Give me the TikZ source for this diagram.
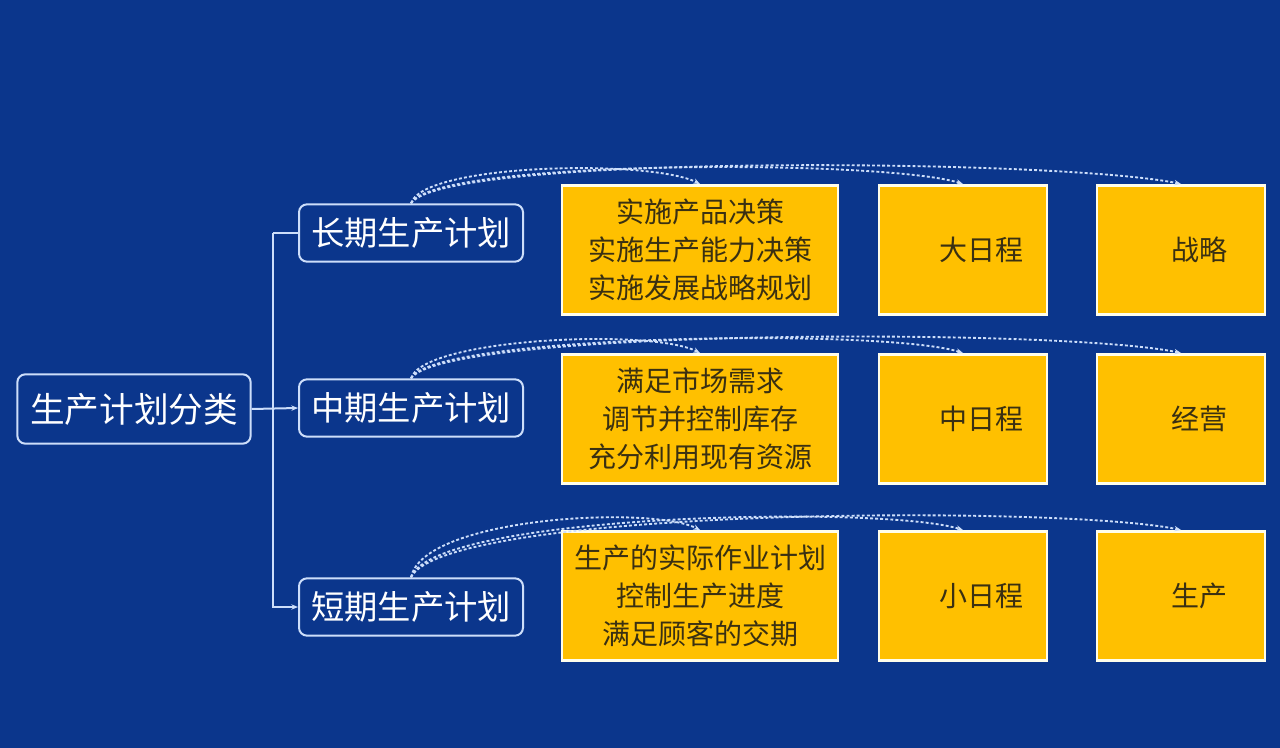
\documentclass[tikz,border=0pt]{standalone}
\usepackage{fontspec}
\setmainfont{Noto Sans CJK SC}
\usetikzlibrary{arrows.meta}
\definecolor{bgblue}{RGB}{11,54,140}
\definecolor{lineblue}{RGB}{205,222,250}
\definecolor{boxyellow}{RGB}{255,192,0}
\definecolor{darktext}{RGB}{58,48,18}
\begin{document}
\begin{tikzpicture}[x=0.75pt, y=-0.75pt, >={Stealth[length=5pt,width=4pt]},
    plan/.style={draw=lineblue, line width=1.5pt, rounded corners=6pt, fill=bgblue, text=white, font=\fontsize{25}{30}\selectfont, minimum width=168pt, minimum height=43pt},
    ybox/.style={draw=white!92!yellow, line width=2pt, fill=boxyellow, text=darktext, align=center, font=\fontsize{21}{28.5}\selectfont, minimum height=97pt},
    link/.style={draw=lineblue, line width=1.5pt},
    dots/.style={draw=lineblue, line width=1.4pt, dash pattern=on 2.2pt off 1.6pt}]
\fill[bgblue] (0,0) rectangle (1280,748);

\node[plan, minimum width=175pt, minimum height=52pt, font=\fontsize{26}{30}\selectfont] (root) at (134,409) {生产计划分类};
\node[plan] (long) at (411,233) {长期生产计划};
\node[plan] (mid) at (411,408) {中期生产计划};
\node[plan] (short) at (411,607) {短期生产计划};

\coordinate (trunk) at (273,408);
\draw[link] (long.west) -- (long.west -| trunk);
\draw[link,->] (long.west -| trunk) |- (short.west);
\draw[link,->] (root.east) -- (mid.west);

% yellow boxes
\node[ybox, minimum width=207pt] (goalA) at (700,250) {实施产品决策\\实施生产能力决策\\实施发展战略规划};
\node[ybox, minimum width=207pt] (goalB) at (700,419) {满足市场需求\\调节并控制库存\\充分利用现有资源};
\node[ybox, minimum width=207pt] (goalC) at (700,596) {生产的实际作业计划\\控制生产进度\\满足顾客的交期};
\node[ybox, minimum width=126pt] (spanA) at (963,250) {\hspace{28pt}大日程};
\node[ybox, minimum width=126pt] (spanB) at (963,419) {\hspace{28pt}中日程};
\node[ybox, minimum width=126pt] (spanC) at (963,596) {\hspace{28pt}小日程};
\node[ybox, minimum width=126pt] (levelA) at (1181,250) {\hspace{28pt}战略};
\node[ybox, minimum width=126pt] (levelB) at (1181,419) {\hspace{28pt}经营};
\node[ybox, minimum width=126pt] (levelC) at (1181,596) {\hspace{28pt}生产};

\foreach \p/\a/\b/\c/\h in {long/goalA/spanA/levelA/40, mid/goalB/spanB/levelB/40, short/goalC/spanC/levelC/60}
{
    \draw[dots,->] (\p.north) .. controls +(12,-\h) and +(-50,-25) .. (\a.north);
    \draw[dots,->] (\p.north) .. controls +(22,-\h-4) and +(-80,-25) .. (\b.north);
    \draw[dots,->] (\p.north) .. controls +(34,-\h-10) and +(-120,-25) .. (\c.north);
}
\end{tikzpicture}
\end{document}
